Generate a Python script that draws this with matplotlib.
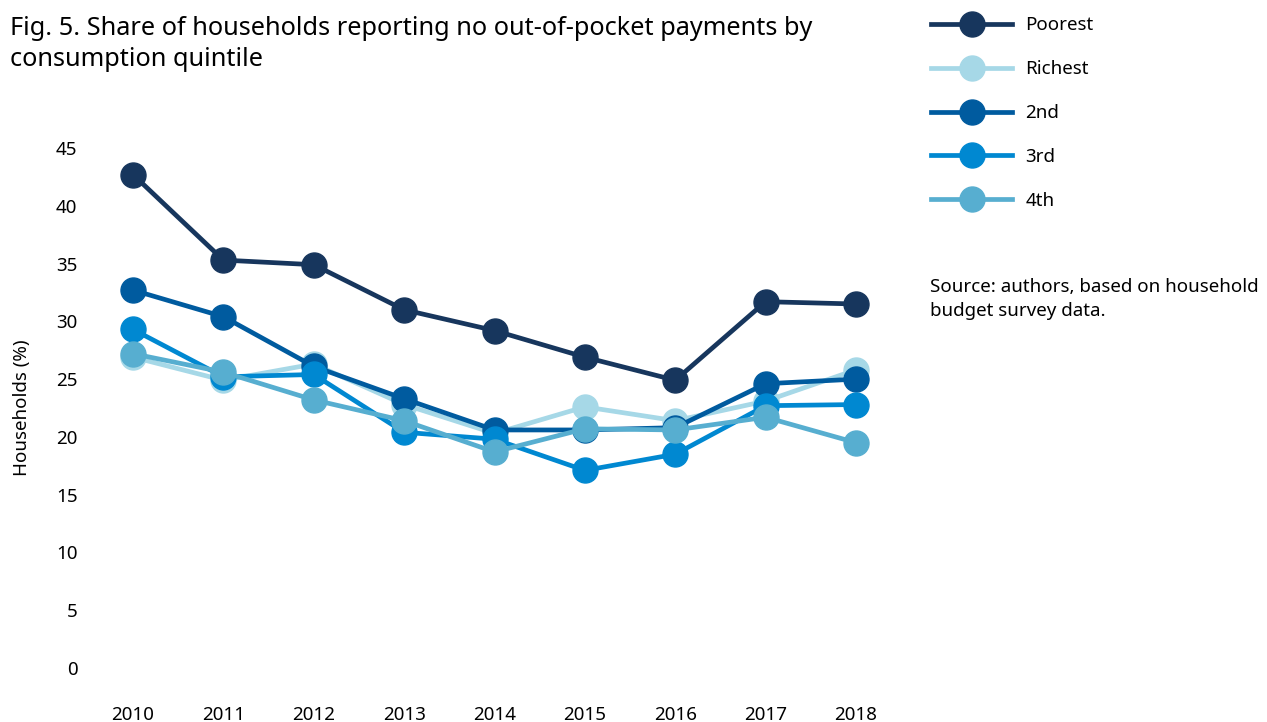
import matplotlib.pyplot as plt

plt.rcParams['font.family'] = ['Noto Sans', 'DejaVu Sans']

years = [2010, 2011, 2012, 2013, 2014, 2015, 2016, 2017, 2018]
poorest = [42.7, 35.3, 34.9, 31.0, 29.2, 26.9, 24.9, 31.7, 31.5]
richest = [26.9, 24.9, 26.3, 22.8, 20.3, 22.6, 21.4, 23.1, 25.8]
second = [32.7, 30.4, 26.1, 23.3, 20.6, 20.6, 20.8, 24.6, 25.0]
third = [29.3, 25.2, 25.4, 20.4, 19.8, 17.1, 18.5, 22.7, 22.8]
fourth = [27.2, 25.6, 23.2, 21.4, 18.7, 20.7, 20.6, 21.7, 19.5]

labels = ["Poorest", "Richest", "2nd", "3rd", "4th"]
colors = {"Poorest": "#17365d", "Richest": "#a6d8e7", "2nd": "#005b9f",
          "3rd": "#0088d1", "4th": "#57aed0"}
series = {"Poorest": poorest, "Richest": richest, "2nd": second,
          "3rd": third, "4th": fourth}
draw_order = ["Richest", "2nd", "3rd", "4th", "Poorest"]

W, H = 1267, 722
fig = plt.figure(figsize=(W / 100, H / 100), dpi=100)
ax = fig.add_axes([133 / W, (H - 668) / H, (856 - 133) / W, (668 - 148) / H])

handles = {}
for name in draw_order:
    ln, = ax.plot(years, series[name], "-o", color=colors[name], lw=3.4,
                  ms=18, clip_on=False, label=name)
    handles[name] = ln

ax.set_xlim(2010, 2018)
ax.set_ylim(0, 45)
ax.set_xticks(years)
ax.set_yticks(range(0, 50, 5))
for s in ax.spines.values():
    s.set_visible(False)
ax.tick_params(axis="x", length=0, pad=27, labelsize=13.5)
ax.tick_params(axis="y", length=0, pad=40, labelsize=13.5)
ax.set_ylabel("Households (%)", fontsize=13.5, labelpad=18)

fig.text(10 / W, 1 - 16 / H,
         "Fig. 5. Share of households reporting no out-of-pocket payments by\n"
         "consumption quintile",
         fontsize=18.2, va="top", ha="left", linespacing=1.3)

fig.legend([handles[n] for n in labels], labels,
           loc="upper left", bbox_to_anchor=(922 / W, 1 - 7 / H),
           frameon=False, fontsize=13.5, handlelength=4.3,
           labelspacing=1.38, handletextpad=0.7, borderpad=0)

fig.text(930 / W, 1 - 278 / H,
         "Source: authors, based on household\nbudget survey data.",
         fontsize=13.5, va="top", ha="left", linespacing=1.45)

fig.savefig("out.png", dpi=100)
